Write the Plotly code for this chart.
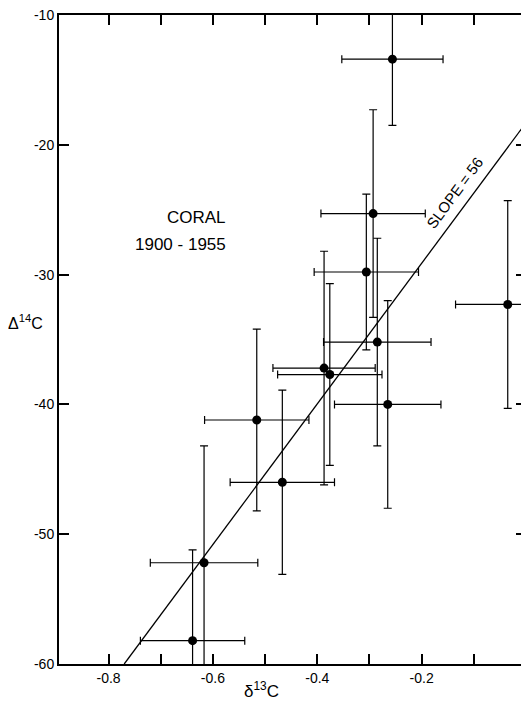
import plotly.graph_objects as go

# Coral 1900-1955: delta13C vs Delta14C with error bars
d13c = [-0.256, -0.293, -0.306, -0.285, -0.265, -0.387, -0.376, -0.516, -0.467, -0.617, -0.639, -0.035]
d14c = [-13.4, -25.3, -29.8, -35.2, -40.0, -37.2, -37.7, -41.2, -46.0, -52.2, -58.2, -32.3]
d13c_err = [0.097, 0.10, 0.10, 0.103, 0.102, 0.098, 0.10, 0.10, 0.10, 0.103, 0.10, 0.10]
d14c_err = [5.1, 8.0, 6.0, 8.0, 8.0, 9.0, 7.0, 7.0, 7.1, 9.0, 7.0, 8.0]

# fitted line (slope = 56) as drawn
fit_x = [-0.77, 0.0]
fit_y = [-60.0, -18.3]

x_ticks = [-0.8, -0.7, -0.6, -0.5, -0.4, -0.3, -0.2, -0.1, 0.0]
x_ticklabels = ["-0.8", "", "-0.6", "", "-0.4", "", "-0.2", "", "0"]
y_ticks = [-60, -50, -40, -30, -20, -10]
y_ticklabels = ["-60", "-50", "-40", "-30", "-20", "-10"]

FONT = "Liberation Sans"


def main():
    fig = go.Figure()

    fig.add_trace(
        go.Scatter(
            x=fit_x,
            y=fit_y,
            mode="lines",
            line=dict(color="black", width=1.3),
            showlegend=False,
            hoverinfo="skip",
        )
    )

    fig.add_trace(
        go.Scatter(
            x=d13c,
            y=d14c,
            mode="markers",
            marker=dict(color="black", size=9),
            error_x=dict(type="data", array=d13c_err, color="black", thickness=1.2, width=4),
            error_y=dict(type="data", array=d14c_err, color="black", thickness=1.2, width=4),
            showlegend=False,
        )
    )

    axis_common = dict(
        showline=True,
        linecolor="black",
        linewidth=2,
        mirror="ticks",
        ticks="inside",
        ticklen=10,
        tickwidth=1.5,
        tickcolor="black",
        showgrid=False,
        zeroline=False,
        automargin=False,
        ticklabeloverflow="allow",
        tickfont=dict(family=FONT, size=14, color="black"),
    )

    fig.update_xaxes(
        range=[-0.895, 0.0],
        tickmode="array",
        tickvals=x_ticks,
        ticktext=x_ticklabels,
        **axis_common,
    )
    fig.update_yaxes(
        range=[-60, -10],
        tickmode="array",
        tickvals=y_ticks,
        ticktext=y_ticklabels,
        **axis_common,
    )

    # text labels
    fig.add_annotation(x=-0.571, y=-25.6, xref="x", yref="y", text="CORAL",
                       showarrow=False, xanchor="right",
                       font=dict(family=FONT, size=17, color="black"))
    fig.add_annotation(x=-0.571, y=-27.7, xref="x", yref="y", text="1900 - 1955",
                       showarrow=False, xanchor="right",
                       font=dict(family=FONT, size=17, color="black"))
    fig.add_annotation(x=-0.136, y=-23.7, xref="x", yref="y", text="SLOPE = 56",
                       showarrow=False, textangle=-53.5,
                       font=dict(family=FONT, size=15, color="black"))

    # axis titles
    fig.add_annotation(x=-0.0725, y=0.527, xref="paper", yref="paper",
                       text="Δ<sup>14</sup>C", showarrow=False,
                       xanchor="center", yanchor="middle",
                       font=dict(family=FONT, size=16, color="black"))
    fig.add_annotation(x=0.434, y=-0.04, xref="paper", yref="paper",
                       text="δ<sup>13</sup>C", showarrow=False,
                       xanchor="center", yanchor="middle",
                       font=dict(family=FONT, size=17, color="black"))

    # page body adds an 8px margin, so the figure is sized to fit inside it
    fig.update_layout(
        width=521,
        height=694,
        margin=dict(l=51, r=2.5, t=7, b=38),
        plot_bgcolor="white",
        paper_bgcolor="white",
    )

    fig.write_html("out.html")


if __name__ == "__main__":
    main()
